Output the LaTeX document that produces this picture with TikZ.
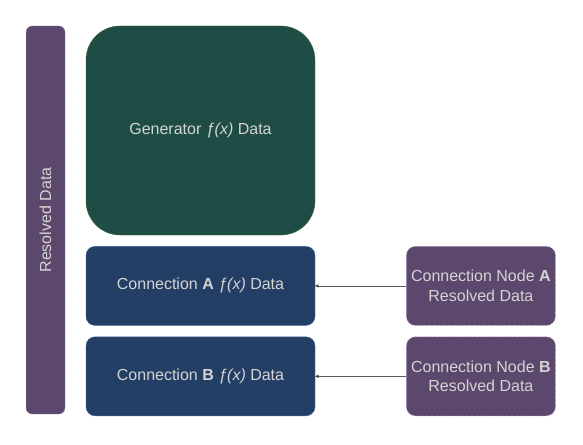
\documentclass[tikz,border=0pt]{standalone}
\usepackage{fontspec}
\setmainfont{Liberation Sans}
\usetikzlibrary{arrows,positioning}

\definecolor{genfill}{HTML}{1F4D45}
\definecolor{gendraw}{HTML}{3C6E2A}
\definecolor{confill}{HTML}{243F66}
\definecolor{condraw}{HTML}{3F6597}
\definecolor{resfill}{HTML}{5C476D}
\definecolor{resdraw}{HTML}{A58BB5}
\definecolor{txt}{HTML}{D4D4D4}
\definecolor{arr}{HTML}{5A5A5A}

\begin{document}
\begin{tikzpicture}[x=1pt,y=1pt,node distance=11pt,>=stealth',
  every node/.style={text=txt,font=\fontsize{16}{19.5}\selectfont,align=center,inner sep=0pt}]
  \tikzstyle{gen}=[draw=gendraw,fill=genfill,rounded corners=34pt,minimum width=229pt,minimum height=209pt]
  \tikzstyle{conn}=[draw=condraw,fill=confill,rounded corners=9pt,minimum width=229pt,minimum height=79pt]
  \tikzstyle{resolved}=[draw=resdraw,dash pattern=on 3pt off 2pt,fill=resfill,rounded corners=9pt,minimum width=149pt,minimum height=79pt]
  \useasboundingbox (0,0) rectangle (583,-444);

  \node[gen]   (generator) at (200.5,-130.5) {Generator \textit{ƒ(x)} Data};
  \node[conn]  (connA) [below=of generator] {Connection \textbf{A} \textit{ƒ(x)} Data};
  \node[conn]  (connB) [below=of connA]     {Connection \textbf{B} \textit{ƒ(x)} Data};
  \node[resolved] (nodeA) [right=91pt of connA] {Connection Node \textbf{A}\\Resolved Data};
  \node[resolved] (nodeB) [right=91pt of connB] {Connection Node \textbf{B}\\Resolved Data};
  \node[resolved,rounded corners=6pt,minimum width=39pt,minimum height=388pt] (resolved) at (45.5,-220)
    {\rotatebox{90}{Resolved Data}};

\path[->,draw=arr,thin]
(nodeA) edge node {} (connA)
(nodeB) edge node {} (connB);
\end{tikzpicture}
\end{document}
